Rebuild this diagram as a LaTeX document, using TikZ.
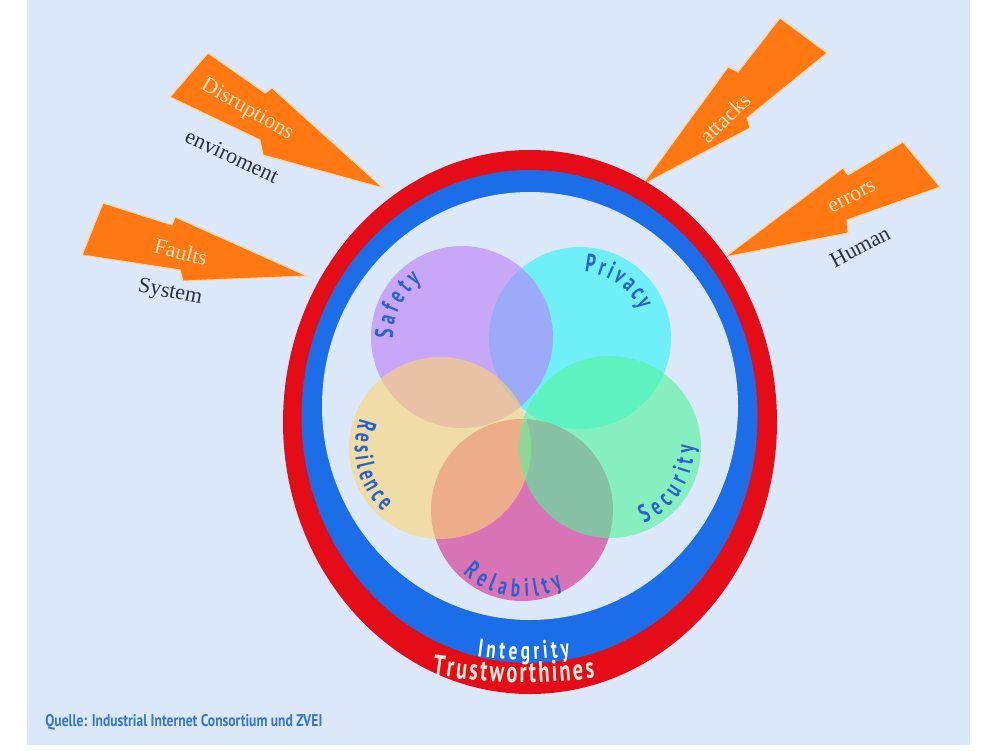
\documentclass[tikz,border=0pt]{standalone}
\usepackage{graphicx}
\usepackage{fontspec}
\setmainfont{Liberation Serif}
\newfontfamily\agency{PT Sans}[FakeStretch=0.68]
\newfontfamily\srcfont{PT Sans}[FakeStretch=0.8]
\usetikzlibrary{decorations.text}
\definecolor{bgblue}{RGB}{218,232,250}
\definecolor{ringred}{RGB}{228,12,22}
\definecolor{ringblue}{RGB}{28,110,232}
\definecolor{boltorange}{RGB}{255,120,18}
\definecolor{boltedge}{RGB}{255,214,160}
\definecolor{bolttext}{RGB}{255,230,195}
\definecolor{darktext}{RGB}{45,48,58}
\definecolor{labelblue}{RGB}{38,98,205}
\definecolor{srcblue}{RGB}{55,118,200}
\definecolor{cPriv}{RGB}{41,245,247}
\definecolor{cSafe}{RGB}{188,125,247}
\definecolor{cResi}{RGB}{253,212,110}
\definecolor{cSecu}{RGB}{81,245,153}
\definecolor{cReli}{RGB}{215,40,135}
\definecolor{trustcol}{RGB}{255,236,218}
\tikzset{
  bolt/.style={fill=boltorange, draw=boltedge, line width=0.6pt, line join=miter},
  bolttxt/.style={text=bolttext, font=\fontsize{12.5}{14}\selectfont, inner sep=0pt},
  subtxt/.style={text=darktext, font=\fontsize{12.5}{14}\selectfont, inner sep=0pt},
  venn/.style={fill opacity=0.6},
  curvelabel/.style={decorate, decoration={text along path, text align={fit to path},
      text={|\agency\bfseries\fontsize{14.5}{14.5}\selectfont\color{labelblue}|#1}}},
}
\begin{document}
\begin{tikzpicture}[x=0.2mm,y=0.2mm]
\useasboundingbox (0,0) rectangle (1000,-750);
\fill[white] (0,0) rectangle (1000,-750);
\fill[bgblue] (27,0) rectangle (970,-745);

% lightning bolts
\draw[bolt] (208,-53) -- (265,-93) -- (272,-88) -- (383,-188) -- (263,-155) -- (260,-140) -- (170,-97) -- cycle;
\draw[bolt] (103,-203) -- (172,-225) -- (175,-217) -- (307,-276) -- (183,-281) -- (180,-270) -- (82,-255) -- cycle;
\draw[bolt] (780,-18) -- (738,-72) -- (728,-67) -- (642,-185) -- (750,-128) -- (747,-118) -- (827,-53) -- cycle;
\draw[bolt] (903,-142) -- (848,-175) -- (843,-168) -- (725,-257) -- (848,-233) -- (847,-220) -- (940,-187) -- cycle;

\node[bolttxt, rotate=-30] (disr) at (247,-110) {Disruptions};
\node[subtxt, rotate=-25] (envi) at (232,-156) {enviroment};
\node[bolttxt, rotate=-14] (faul) at (181,-252) {Faults};
\node[subtxt, rotate=-11] (syst) at (170,-293) {System};
\node[bolttxt, rotate=44] (atta) at (725,-118) {attacks};
\node[bolttxt, rotate=28] (erro) at (852,-197) {errors};
\node[subtxt, rotate=28] (huma) at (860,-247) {Human};

% rings
\fill[ringred] (530,-422) ellipse[x radius=247, y radius=272];
\fill[ringblue] (529.5,-416.5) ellipse[x radius=228, y radius=246.5];
\fill[bgblue] (530,-406) ellipse[x radius=208, y radius=214];

% venn circles
\fill[cPriv, venn] (580,-338) circle[radius=91];
\fill[cReli, venn] (522,-510) circle[radius=91];
\fill[cSafe, venn] (462,-337) circle[radius=91];
\fill[cResi, venn] (440,-448) circle[radius=91];
\fill[cSecu, venn] (610,-447) circle[radius=91];

% curved labels
\path[curvelabel=Safety] (462,-337) ++(181:69) arc[start angle=181, end angle=126, radius=69];
\path[curvelabel=Privacy] (580,-338) ++(86:66) arc[start angle=86, end angle=25, radius=66];
\path[curvelabel=Security] (610,-447) ++(-66:84) arc[start angle=-66, end angle=1, radius=84];
\path[curvelabel=Relabilty] (522,-510) ++(-133:87) arc[start angle=-133, end angle=-62, radius=87];
\path[curvelabel=Resilence] (440,-448) ++(160:85) arc[start angle=160, end angle=228, radius=85];

\path[decorate, decoration={text along path, text align={fit to path},
   text={|\agency\bfseries\fontsize{14.5}{14.5}\selectfont\color{white}|Integrity}}]
   (477,-656) to[bend right=8] (570,-656);
\path[decorate, decoration={text along path, text align={fit to path},
   text={|\agency\bfseries\fontsize{17}{17}\selectfont\color{trustcol}|Trustworthines}}]
   (432,-675) to[bend right=7] (595,-678);

\node[anchor=west, text=srcblue, inner sep=0pt] (src) at (45,-722)
  {\resizebox{55.4mm}{!}{\srcfont\bfseries Quelle: Industrial Internet Consortium und ZVEI}};
\end{tikzpicture}
\end{document}
